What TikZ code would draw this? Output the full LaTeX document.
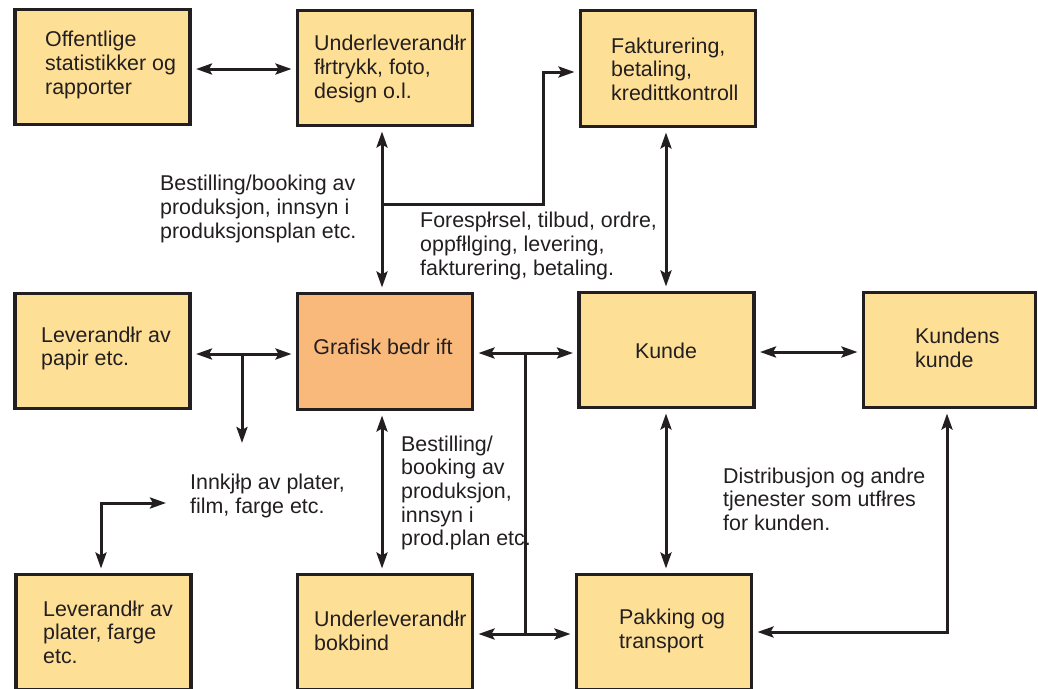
\documentclass[tikz,border=0pt]{standalone}
\usepackage{fontspec}
\setmainfont{Liberation Sans}
\usetikzlibrary{arrows.meta,calc}
\definecolor{boxy}{HTML}{FEDF96}
\definecolor{boxo}{HTML}{F9B97B}
\definecolor{ink}{HTML}{231F20}
\begin{document}
\begin{tikzpicture}[x=1pt,y=-1pt,
  box/.style={draw=ink, line width=3.2pt, fill=boxy, minimum width=175pt, minimum height=115pt, inner sep=0pt, outer sep=0pt},
  txt/.style={text=ink, font=\fontsize{21.4}{23.6}\selectfont, align=left, inner sep=0pt, anchor=west},
  conn/.style={draw=ink, line width=3pt},
  tip/.style={-{Stealth[length=16pt,width=11pt,inset=3pt]}},
  dbl/.style={{Stealth[length=16pt,width=11pt,inset=3pt]}-{Stealth[length=16pt,width=11pt,inset=3pt]}},
  sh/.style={shorten <=6pt, shorten >=6pt},
]
\useasboundingbox (0,0) rectangle (1038,688);
\fill[white] (0,0) rectangle (1038,688);

% boxes
\node[box] (off) at (102.5,67) {};
\node[box] (und) at (385,68) {};
\node[box, minimum height=116pt] (fak) at (668,68.5) {};
\node[box] (pap) at (102.5,351) {};
\node[box, fill=boxo, minimum height=116pt] (gra) at (385,351.5) {};
\node[box] (kun) at (666.5,350) {};
\node[box, minimum width=172pt] (kk) at (949.5,350) {};
\node[box] (plat) at (103.5,632) {};
\node[box] (bok) at (385,632) {};
\node[box] (pak) at (664,632) {};

% box texts
\node[txt] (toff) at (45,65) {Offentlige\\statistikker og\\rapporter};
\node[txt] (tund) at (314,69) {Underleverandłr\\fłrtrykk, foto,\\design o.l.};
\node[txt] (tfak) at (611,69) {Fakturering,\\betaling,\\kredittkontroll};
\node[txt] (tpap) at (41,348.5) {Leverandłr av\\papir etc.};
\node[txt, anchor=center] (tgra) at (383,347) {Grafisk bedr ift};
\node[txt, anchor=center] (tkun) at (666,351) {Kunde};
\node[txt] (tkk) at (915,348) {Kundens\\kunde};
\node[txt] (tplat) at (43,632) {Leverandłr av\\plater, farge\\etc.};
\node[txt] (tbok) at (314,631) {Underleverandłr\\bokbind};
\node[txt] (tpak) at (619,631) {Pakking og\\transport};

% free labels
\node[txt] (l1) at (160,209) {Bestilling/booking av\\produksjon, innsyn i\\produksjonsplan etc.};
\node[txt] (l2) at (420,246) {Forespłrsel, tilbud, ordre,\\oppfłlging, levering,\\fakturering, betaling.};
\node[txt] (l3) at (401,493) {Bestilling/\\booking av\\produksjon,\\innsyn i\\prod.plan etc.};
\node[txt] (l4) at (190,496) {Innkjłp av plater,\\film, farge etc.};
\node[txt] (l5) at (723,499) {Distribusjon og andre\\tjenester som utfłres\\for kunden.};

% helper coordinates
\coordinate (xa) at (382,0);
\coordinate (xb) at (666,0);
\coordinate (j1) at (382,204);
\coordinate (c1) at (543,72);
\coordinate (y5) at (0,354);
\coordinate (j5) at (242,354);
\coordinate (e5) at (242,443);
\coordinate (y6) at (0,353);
\coordinate (y6b) at (0,634);
\coordinate (j6a) at (525,353);
\coordinate (j6b) at (525,634);
\coordinate (c9) at (947,632);
\coordinate (e10) at (166,503);
\coordinate (c10) at (101,503);

% connectors
\draw[conn,dbl,sh] ([yshift=-2pt]off.east) -- ([yshift=-2pt]off.east -| und.west);
\draw[conn,dbl,sh] (und.south -| xa) -- (gra.north -| xa);
\draw[conn,tip,shorten >=6pt] (j1) -| (c1) -- (c1 -| fak.west);
\draw[conn,dbl,sh] (fak.south -| xb) -- (kun.north -| xb);
\draw[conn,dbl,sh] ([yshift=-2pt]kun.east) -- ([yshift=-2pt]kun.east -| kk.west);
\draw[conn,dbl,sh] (pap.east |- y5) -- (gra.west |- y5);
\draw[conn,tip] (j5) -- (e5);
\draw[conn,dbl,sh] (gra.east |- y6) -- (kun.west |- y6);
\draw[conn,dbl,sh] (bok.east |- y6b) -- (pak.west |- y6b);
\draw[conn] (j6a) -- (j6b);
\draw[conn,dbl,sh] (gra.south -| xa) -- (bok.north -| xa);
\draw[conn,dbl,sh] (kun.south -| xb) -- (pak.north -| xb);
\draw[conn,dbl,sh] (kk.south -| c9) -- (c9) -- (c9 -| pak.east);
\draw[conn,dbl,shorten >=6pt] (e10) -- (c10) -- (c10 |- plat.north);
\end{tikzpicture}
\end{document}
